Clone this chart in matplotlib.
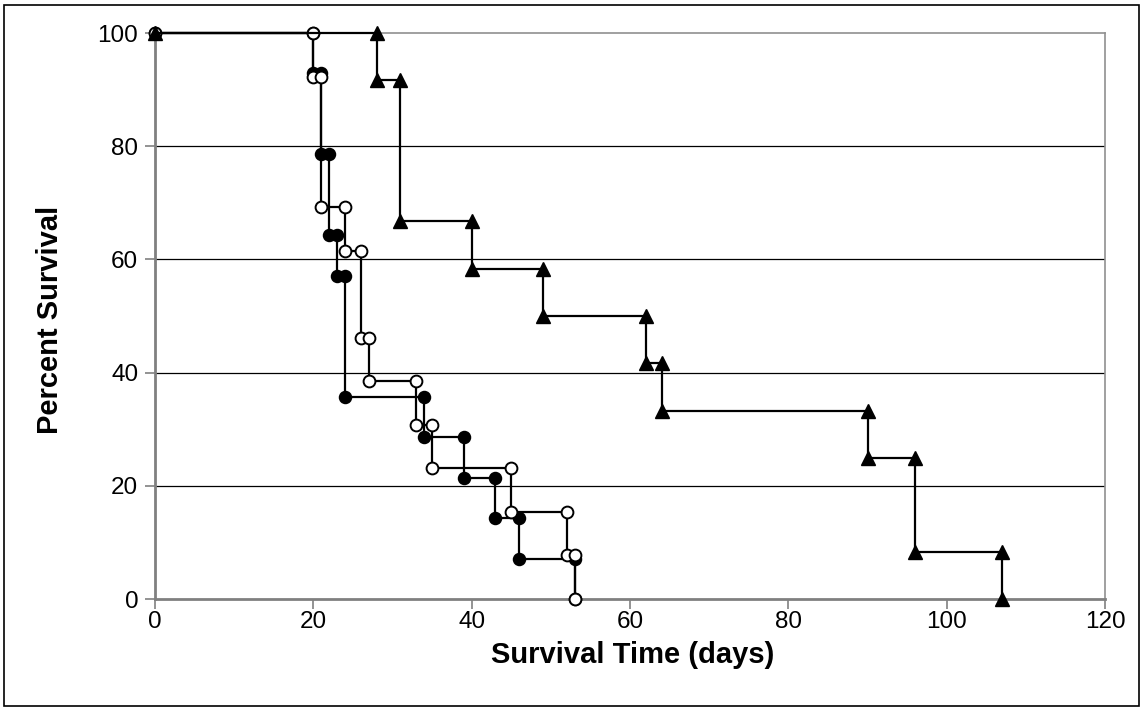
import matplotlib
matplotlib.use("Agg")
import matplotlib.pyplot as plt
from matplotlib.patches import Rectangle

# Data (step points, Excel-style Kaplan-Meier)
filled_x = [0, 20, 20, 21, 21, 22, 22, 23, 23, 24, 24, 34, 34, 39, 39, 43, 43, 46, 46, 53, 53]
filled_y = [100, 100, 92.9, 92.9, 78.6, 78.6, 64.3, 64.3, 57.1, 57.1, 35.7, 35.7, 28.6, 28.6, 21.4,
            21.4, 14.3, 14.3, 7.1, 7.1, 0]

open_x = [0, 20, 20, 21, 21, 24, 24, 26, 26, 27, 27, 33, 33, 35, 35, 45, 45, 52, 52, 53, 53]
open_y = [100, 100, 92.3, 92.3, 69.2, 69.2, 61.5, 61.5, 46.2, 46.2, 38.5, 38.5, 30.8, 30.8, 23.1,
          23.1, 15.4, 15.4, 7.7, 7.7, 0]

tri_x = [0, 28, 28, 31, 31, 40, 40, 49, 49, 62, 62, 64, 64, 90, 90, 96, 96, 107, 107]
tri_y = [100, 100, 91.7, 91.7, 66.7, 66.7, 58.3, 58.3, 50, 50, 41.7, 41.7, 33.3, 33.3, 25, 25,
         8.3, 8.3, 0]

x_ticks = [0, 20, 40, 60, 80, 100, 120]
y_ticks = [0, 20, 40, 60, 80, 100]
x_label = "Survival Time (days)"
y_label = "Percent Survival"

plt.rcParams['font.family'] = ['Liberation Sans', 'DejaVu Sans']

fig = plt.figure(figsize=(11.43, 7.11), dpi=100)
W, H = 1143, 711
left, right, top, bottom = 155, 1105, 33, 599
ax = fig.add_axes([left / W, 1 - bottom / H, (right - left) / W, (bottom - top) / H])

ax.set_xlim(0, 120)
ax.set_ylim(0, 100)

for y in [20, 40, 60, 80]:
    ax.axhline(y, color='black', lw=0.9, zorder=1)

ax.plot(filled_x, filled_y, color='black', lw=1.6, marker='o', ms=8.5,
        mfc='black', mec='black', mew=1.2, zorder=3, clip_on=False)
ax.plot(open_x, open_y, color='black', lw=1.6, marker='o', ms=8.5,
        mfc='white', mec='black', mew=1.4, zorder=4, clip_on=False)
ax.plot(tri_x, tri_y, color='black', lw=1.6, marker='^', ms=10,
        mfc='black', mec='black', zorder=5, clip_on=False)

ax.set_xticks(x_ticks)
ax.set_yticks(y_ticks)
ax.tick_params(axis='both', direction='out', length=7, width=1.2, color='#808080',
               labelsize=17.5)
ax.tick_params(axis='y', pad=5)
ax.tick_params(axis='x', pad=2)

for s in ['left', 'bottom']:
    ax.spines[s].set_color('#808080')
    ax.spines[s].set_linewidth(2)
for s in ['right', 'top']:
    ax.spines[s].set_color('#909090')
    ax.spines[s].set_linewidth(1.2)
ax.spines['left'].set_zorder(2)

fig.text(633 / W, 1 - 655 / H, x_label, fontsize=21, fontweight='bold',
         ha='center', va='center')
fig.text(50 / W, 1 - 320 / H, y_label, fontsize=21, fontweight='bold',
         ha='center', va='center', rotation=90)

fig.patches.append(Rectangle((4 / W, 5 / H), (W - 8) / W, (H - 10) / H,
                             transform=fig.transFigure, fill=False,
                             edgecolor='black', lw=1.2))

fig.savefig("out.png", dpi=100)
